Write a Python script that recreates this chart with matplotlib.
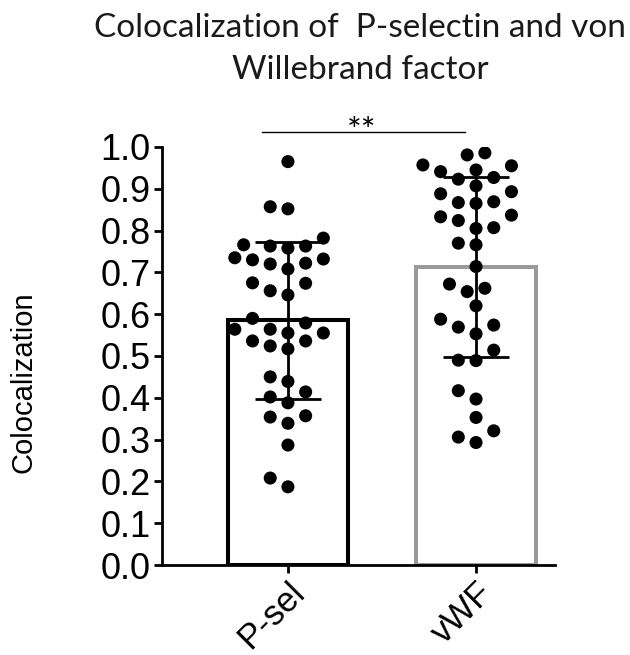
import matplotlib
matplotlib.use("Agg")
from matplotlib import pyplot as plt

groups = ["P-sel", "vWF"]
means = [0.585, 0.712]
sds = [0.187, 0.215]
edge_colors = ["black", "#9a9a9a"]

psel = [0.965, 0.852, 0.857, 0.766, 0.763, 0.758, 0.763, 0.782,
        0.732, 0.722, 0.708, 0.720, 0.730, 0.735, 0.675, 0.656,
        0.646, 0.674, 0.579, 0.590, 0.555, 0.564, 0.564, 0.555,
        0.536, 0.524, 0.517, 0.536, 0.439, 0.450, 0.402, 0.414,
        0.388, 0.357, 0.339, 0.354, 0.287, 0.187, 0.208]
vwf = [0.981, 0.986, 0.941, 0.955, 0.957, 0.945, 0.923, 0.927,
       0.907, 0.893, 0.888, 0.869, 0.867, 0.865, 0.833, 0.837,
       0.824, 0.805, 0.807, 0.766, 0.770, 0.714, 0.672, 0.654,
       0.662, 0.620, 0.574, 0.588, 0.553, 0.569, 0.514, 0.490,
       0.489, 0.397, 0.417, 0.353, 0.321, 0.293, 0.306]


def beeswarm(vals, center, xpx=188.0, ypx=418.0, step=8.85, dmin=15.5):
    # place each point at the free x offset closest to the centre
    placed = []
    for v in sorted(vals):
        k = 0
        while True:
            for off in ([0] if k == 0 else [-k * step, k * step]):
                ok = all((off - px) ** 2 + ((v - py) * ypx) ** 2 >= dmin ** 2
                         for px, py in placed)
                if ok:
                    placed.append((off, v))
                    break
            else:
                k += 1
                continue
            break
    xs = [center + px / xpx for px, _ in placed]
    ys = [py for _, py in placed]
    return xs, ys


fig = plt.figure(figsize=(6.3, 6.55), dpi=100)
ax = fig.add_axes([0.257, 0.1374, 0.624, 0.6382])

pos = [0, 1]
ax.bar(pos, means, width=0.64, color="white", edgecolor=edge_colors,
       linewidth=2.9, zorder=1)

for p, vals in zip(pos, [psel, vwf]):
    x, y = beeswarm(vals, p)
    ax.scatter(x, y, s=9.4 ** 2, color="black", edgecolors="none", zorder=3)

ax.errorbar(pos, means, yerr=sds, fmt="none", ecolor="black",
            elinewidth=2.0, capsize=24, capthick=2.0, zorder=4)

ax.set_xlim(-0.67, 1.42)
ax.set_ylim(0, 1.0)
ax.set_yticks([i / 10 for i in range(11)])
ax.set_yticklabels(["%.1f" % (i / 10) for i in range(11)],
                   family="Liberation Sans", fontsize=26)
ax.set_xticks(pos)
ax.set_xticklabels(groups, family="Liberation Sans", fontsize=25,
                   rotation=45, ha="right", va="top", rotation_mode="anchor")

for s in ["top", "right"]:
    ax.spines[s].set_visible(False)
for s in ["left", "bottom"]:
    ax.spines[s].set_linewidth(2.0)
ax.tick_params(axis="both", direction="out", length=6, width=2.0, pad=2)

# significance bar
ax.plot([-0.14, 0.94], [1.036, 1.036], color="black", linewidth=1.0,
        clip_on=False)
ax.text(0.39, 1.012, "**", ha="center", va="baseline", fontsize=25,
        family="Lato", clip_on=False)

fig.text(360 / 630, 1 - 37 / 655, "Colocalization of  P-selectin and von",
         ha="center", va="baseline", fontsize=24, family="Lato", color="#1a1a1a")
fig.text(360 / 630, 1 - 79 / 655, "Willebrand factor",
         ha="center", va="baseline", fontsize=24, family="Lato", color="#1a1a1a")
fig.text(0.038, 1 - 382 / 655, "Colocalization", rotation=90, ha="center",
         va="center", fontsize=21, family="Liberation Sans")

fig.savefig("out.png", dpi=100)
